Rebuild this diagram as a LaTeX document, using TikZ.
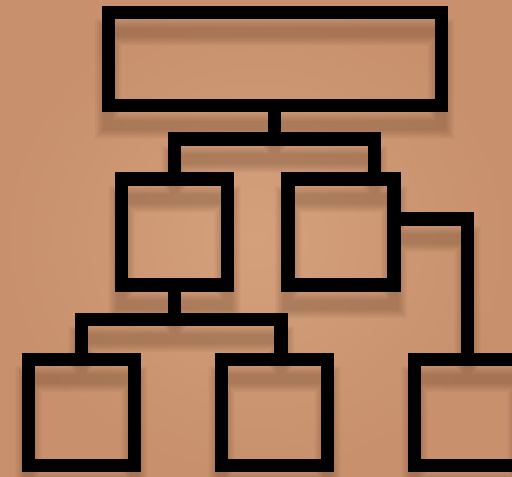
\documentclass[tikz,border=0pt]{standalone}
\usetikzlibrary{positioning}
\definecolor{bgmid}{RGB}{212,160,124}
\definecolor{bgedge}{RGB}{200,144,109}
\definecolor{shadowcol}{RGB}{70,40,20}

\tikzset{
    chartline/.style={draw=black, line width=13.3pt},
    shadowline/.style={draw=shadowcol, line width=#1},
    chartbox/.style={rectangle, inner sep=0pt, outer sep=0pt, minimum width=106pt, minimum height=106pt},
}

%% one copy of the chart: boxes + connectors, #1 = line style
\newcommand\orgchart[1]{%
    %% --- boxes ---
    \node[chartbox, #1, minimum width=333pt, minimum height=93.4pt] (head) at (274.7, 59) {};
    \node[chartbox, #1] (midl) at (174.7, 232.1) {};
    \node[chartbox, #1] (midr) at (341.0, 232.1) {};
    \node[chartbox, #1] (botl) at (81.3, 412.2) {};
    \node[chartbox, #1] (botm) at (274.7, 412.2) {};
    \node[chartbox, #1] (botr) at (467.7, 412.2) {};
    %% --- bus bars ---
    \coordinate (busa) at (374.3, 139);
    \coordinate (busb) at (281.0, 319.2);
    %% --- connectors ---
    \draw[#1] (head.south) -- (head.south |- busa);
    \draw[#1] (midl.north) |- (busa) -- (midr.north -| busa);
    \draw[#1] (midl.south) -- (midl.south |- busb);
    \draw[#1] (botl.north) |- (busb) -- (botm.north -| busb);
    \draw[#1] ([yshift=13pt]midr.east) -| (botr.north);
}

\begin{document}
\begin{tikzpicture}[x=1pt, y=-1pt]
    \clip (0,0) rectangle (512,477);
    %% --- background ---
    \fill[inner color=bgmid, outer color=bgedge] (0,0) rectangle (512,477);

    %% --- soft drop shadow (stacked wide strokes) ---
    \foreach \w in {10pt, 14pt, 18pt, 22pt, 26pt} {
        \begin{scope}[yshift=-20pt, transparency group, opacity=0.055]
            \orgchart{shadowline=\w}
        \end{scope}
    }

    %% --- chart ---
    \orgchart{chartline}
\end{tikzpicture}
\end{document}
